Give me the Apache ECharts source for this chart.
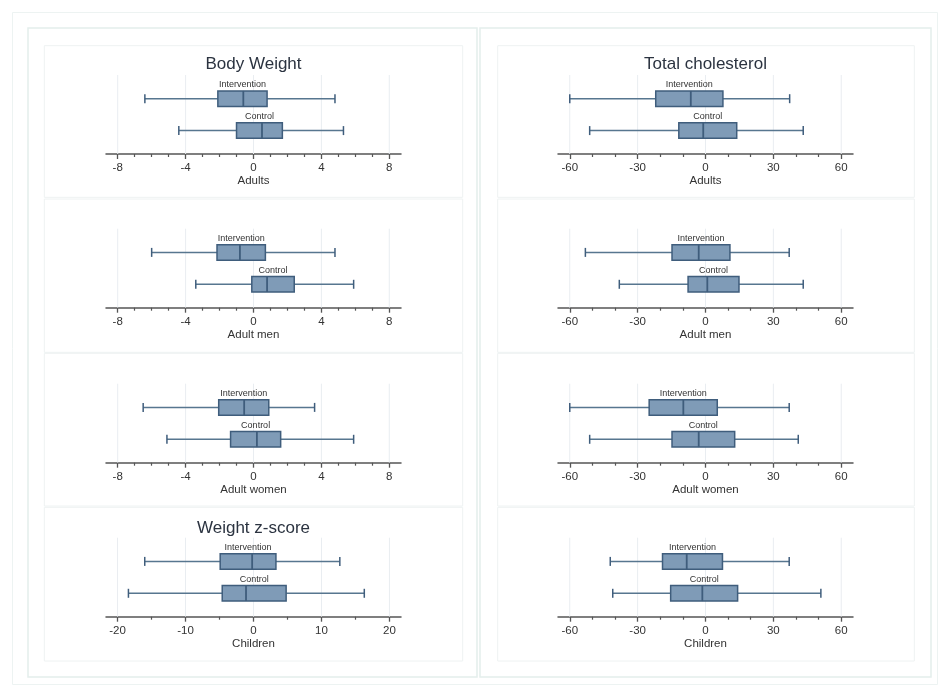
<!DOCTYPE html>
<html>
<head>
<meta charset="utf-8">
<script src="https://cdn.jsdelivr.net/npm/echarts@6/dist/echarts.min.js"></script>
<style>
html,body{margin:0;padding:0;background:#fff;}
#chart{width:939px;height:687px;}
</style>
</head>
<body>
<div id="chart"></div>
<script>
// ---- data ----
const groups = ['Intervention', 'Control'];
// [lower whisker, Q1, median, Q3, upper whisker]
const bwAdultsIntervention = [-6.4, -2.1, -0.6, 0.8, 4.8];
const bwAdultsControl      = [-4.4, -1.0, 0.5, 1.7, 5.3];
const bwMenIntervention    = [-6.0, -2.15, -0.8, 0.7, 4.8];
const bwMenControl         = [-3.4, -0.1, 0.8, 2.4, 5.9];
const bwWomenIntervention  = [-6.5, -2.05, -0.55, 0.9, 3.6];
const bwWomenControl       = [-5.1, -1.35, 0.2, 1.6, 5.9];
const wzChildIntervention  = [-16.0, -4.9, -0.2, 3.3, 12.7];
const wzChildControl       = [-18.4, -4.6, -1.1, 4.8, 16.3];
const tcAdultsIntervention = [-60, -22, -6.5, 7.7, 37.2];
const tcAdultsControl      = [-51.2, -11.8, -1.0, 13.8, 43.2];
const tcMenIntervention    = [-53.1, -14.8, -3.0, 10.8, 37.0];
const tcMenControl         = [-38.1, -7.7, 0.8, 14.8, 43.2];
const tcWomenIntervention  = [-60, -24.9, -9.8, 5.2, 37.0];
const tcWomenControl       = [-51.2, -14.8, -3.0, 12.9, 41.0];
const tcChildIntervention  = [-42.1, -19.0, -8.3, 7.5, 37.0];
const tcChildControl       = [-41.0, -15.4, -1.4, 14.2, 51.0];

const bwTicks = [-8, -4, 0, 4, 8];
const bwMinorTicks = [-7, -6, -5, -3, -2, -1, 1, 2, 3, 5, 6, 7];
const wzTicks = [-20, -10, 0, 10, 20];
const wzMinorTicks = [-15, -5, 5, 15];
const tcTicks = [-60, -30, 0, 30, 60];
const tcMinorTicks = [-50, -40, -20, -10, 10, 20, 40, 50];

const titles = ['Body Weight', 'Total cholesterol', 'Weight z-score'];
const subgroupNames = ['Adults', 'Adult men', 'Adult women', 'Children'];

// ---- layout ----
const FONT = '"Liberation Sans", Arial, sans-serif';
const colLeft = [106, 558];
const colWidth = 295;
const rowAxisY = [154, 307.7, 462.7, 616.7];
const gridH = 79;

const panels = [
  {col:0,row:0,int:bwAdultsIntervention,ctl:bwAdultsControl,ticks:bwTicks,minor:bwMinorTicks,ext:8.69,name:subgroupNames[0]},
  {col:0,row:1,int:bwMenIntervention,ctl:bwMenControl,ticks:bwTicks,minor:bwMinorTicks,ext:8.69,name:subgroupNames[1]},
  {col:0,row:2,int:bwWomenIntervention,ctl:bwWomenControl,ticks:bwTicks,minor:bwMinorTicks,ext:8.69,name:subgroupNames[2]},
  {col:0,row:3,int:wzChildIntervention,ctl:wzChildControl,ticks:wzTicks,minor:wzMinorTicks,ext:21.7,name:subgroupNames[3]},
  {col:1,row:0,int:tcAdultsIntervention,ctl:tcAdultsControl,ticks:tcTicks,minor:tcMinorTicks,ext:65.2,name:subgroupNames[0]},
  {col:1,row:1,int:tcMenIntervention,ctl:tcMenControl,ticks:tcTicks,minor:tcMinorTicks,ext:65.2,name:subgroupNames[1]},
  {col:1,row:2,int:tcWomenIntervention,ctl:tcWomenControl,ticks:tcTicks,minor:tcMinorTicks,ext:65.2,name:subgroupNames[2]},
  {col:1,row:3,int:tcChildIntervention,ctl:tcChildControl,ticks:tcTicks,minor:tcMinorTicks,ext:65.2,name:subgroupNames[3]}
];

const FILL = '#7f9bb7', EDGE = '#3f5d7c', WHISK = '#57768f';
const BOX_H = 15.5, CAP_H = 9;

function renderBox(params, api) {
  const g = api.value(0);
  const lo = api.coord([api.value(1), g]);
  const q1 = api.coord([api.value(2), g]);
  const md = api.coord([api.value(3), g]);
  const q3 = api.coord([api.value(4), g]);
  const hi = api.coord([api.value(5), g]);
  const y = lo[1];
  const ws = {stroke: WHISK, lineWidth: 1.5};
  return {type: 'group', children: [
    {type:'line', shape:{x1:lo[0], y1:y, x2:q1[0], y2:y}, style:ws},
    {type:'line', shape:{x1:q3[0], y1:y, x2:hi[0], y2:y}, style:ws},
    {type:'line', shape:{x1:lo[0], y1:y-CAP_H/2, x2:lo[0], y2:y+CAP_H/2}, style:{stroke:EDGE, lineWidth:1.5}},
    {type:'line', shape:{x1:hi[0], y1:y-CAP_H/2, x2:hi[0], y2:y+CAP_H/2}, style:{stroke:EDGE, lineWidth:1.5}},
    {type:'rect', shape:{x:q1[0], y:y-BOX_H/2, width:q3[0]-q1[0], height:BOX_H}, style:{fill:FILL, stroke:EDGE, lineWidth:1.5}},
    {type:'line', shape:{x1:md[0], y1:y-BOX_H/2, x2:md[0], y2:y+BOX_H/2}, style:{stroke:EDGE, lineWidth:1.8}},
    {type:'text', style:{text: groups[g], x:(q1[0]+q3[0])/2, y:y-BOX_H/2-6, align:'center', verticalAlign:'middle',
      fontSize:9, fontFamily:FONT, fill:'#333'}}
  ]};
}

function renderGridLine(params, api) {
  const p = api.coord([api.value(0), 0]);
  const cs = params.coordSys;
  return {type:'line', shape:{x1:p[0], y1:cs.y, x2:p[0], y2:cs.y+cs.height}, style:{stroke:'#e9edf1', lineWidth:1}};
}

const grid = [], xAxis = [], yAxis = [], series = [];
panels.forEach((p, i) => {
  grid.push({left: colLeft[p.col], width: colWidth, top: rowAxisY[p.row] - gridH, height: gridH});
  xAxis.push({
    type:'value', gridIndex:i, min:-p.ext, max:p.ext, position:'bottom',
    name:p.name, nameLocation:'middle', nameGap:20,
    nameTextStyle:{fontSize:11.5, fontFamily:FONT, color:'#333'},
    axisLine:{show:true, onZero:false, lineStyle:{color:'#555', width:1.5}},
    axisTick:{show:true, length:5, customValues:p.ticks, lineStyle:{color:'#555', width:1.3}},
    axisLabel:{show:true, customValues:p.ticks, margin:8, fontSize:11.5, fontFamily:FONT, color:'#333'},
    splitLine:{show:false}
  });
  xAxis.push({
    type:'value', gridIndex:i, min:-p.ext, max:p.ext, position:'bottom', offset:0,
    axisLine:{show:false, onZero:false},
    axisTick:{show:true, length:3, customValues:p.minor, lineStyle:{color:'#555', width:1.2}},
    axisLabel:{show:false},
    splitLine:{show:false}
  });
  yAxis.push({type:'value', gridIndex:i, min:-0.743, max:1.734, inverse:true, show:false,
    axisLine:{onZero:false}, splitLine:{show:false}});
  series.push({
    type:'custom', xAxisIndex:2*i, yAxisIndex:i, z:1, silent:true,
    renderItem: renderGridLine, encode:{x:0},
    data: p.ticks.map(v => [v])
  });
  series.push({
    type:'custom', xAxisIndex:2*i, yAxisIndex:i, z:3, silent:true,
    renderItem: renderBox, encode:{x:[1,2,3,4,5], y:0},
    data: [[0].concat(p.int), [1].concat(p.ctl)]
  });
});

// frames
const frameColor = '#e4eeec', panelColor = '#eef2f2';
const graphic = [
  {type:'rect', shape:{x:12.5, y:12.5, width:925, height:672}, style:{fill:'none', stroke:'#edf3f2', lineWidth:1}, z:-10},
  {type:'rect', shape:{x:28, y:28, width:449, height:649}, style:{fill:'none', stroke:frameColor, lineWidth:1.5}, z:-10},
  {type:'rect', shape:{x:480, y:28, width:451, height:649}, style:{fill:'none', stroke:frameColor, lineWidth:1.5}, z:-10}
];
const rowBands = [[45.7,197.3],[199,352.3],[353.3,506],[507.3,661]];
const colBands = [[44.3,462.7],[497.7,914.3]];
colBands.forEach(c => rowBands.forEach(r => {
  graphic.push({type:'rect', shape:{x:c[0], y:r[0], width:c[1]-c[0], height:r[1]-r[0]},
    style:{fill:'none', stroke:panelColor, lineWidth:1}, z:-9});
}));
const titleSpecs = [
  {text:titles[0], x:253.5, y:64},
  {text:titles[1], x:705.5, y:64},
  {text:titles[2], x:253.5, y:528}
];
titleSpecs.forEach(t => graphic.push({type:'text', style:{text:t.text, x:t.x, y:t.y, align:'center', verticalAlign:'middle',
  fontSize:17, fontFamily:FONT, fill:'#2b3340'}, z:10}));

const chart = echarts.init(document.getElementById('chart'), null, {renderer:'canvas'});
chart.setOption({
  animation:false,
  backgroundColor:'#fff',
  grid, xAxis, yAxis, series, graphic
});
</script>
</body>
</html>
